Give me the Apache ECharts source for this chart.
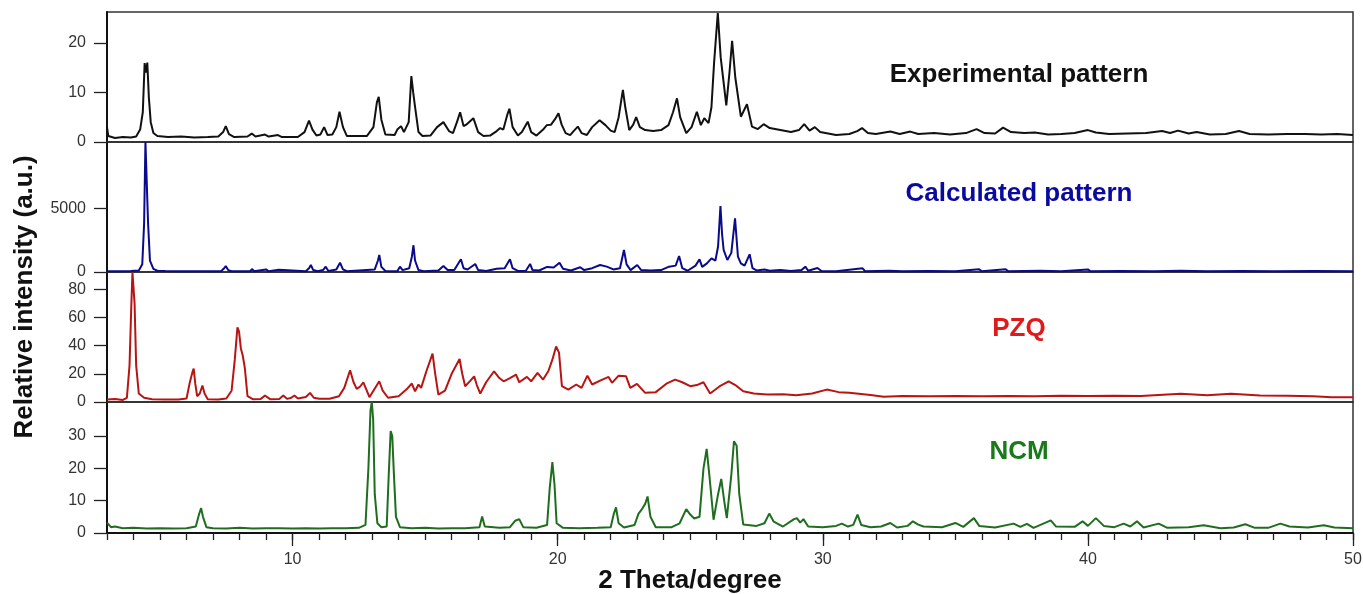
<!DOCTYPE html>
<html>
<head>
<meta charset="utf-8">
<script src="https://cdn.jsdelivr.net/npm/echarts@6/dist/echarts.min.js"></script>
<style>
  html, body { margin: 0; padding: 0; background: #fff; }
  #chart { width: 1363px; height: 594px; }
</style>
</head>
<body>
<div id="chart"></div>
<script>
// 2 theta (degree), intensity pairs
const experimental = [[3.0,3.0],[3.05,1.2],[3.3,0.8],[3.6,1.0],[3.9,0.9],[4.1,1.1],[4.25,2.5],[4.35,6],[4.42,15.9],[4.47,14],[4.52,16],[4.58,8.9],[4.65,4],[4.75,1.8],[4.9,1.2],[5.3,1.0],[5.8,1.1],[6.3,0.9],[6.8,1.0],[7.2,1.1],[7.38,2],[7.48,3.2],[7.6,1.6],[7.8,1.0],[8.3,1.1],[8.46,1.7],[8.6,1.1],[8.96,1.5],[9.1,1.1],[9.45,1.4],[9.6,1.0],[10.2,1.0],[10.45,2],[10.62,4.3],[10.75,2.5],[10.9,1.3],[11.05,1.5],[11.19,3.0],[11.32,1.4],[11.5,1.5],[11.65,3],[11.77,6.1],[11.9,3],[12.05,1.2],[12.8,1.2],[13.05,3],[13.18,8],[13.25,9.1],[13.35,4.5],[13.5,1.5],[13.85,1.4],[13.95,2.5],[14.09,3.2],[14.2,2],[14.38,4],[14.48,13.3],[14.55,10],[14.62,7.1],[14.75,2],[14.9,1.2],[15.2,1.3],[15.45,3],[15.69,4.0],[15.9,2.2],[16.05,1.8],[16.2,4],[16.32,6.0],[16.45,3.2],[16.55,3.5],[16.82,4.8],[17.0,2],[17.2,1.2],[17.45,1.3],[17.7,2.2],[17.83,2.8],[17.95,2.5],[18.1,5.5],[18.18,6.7],[18.3,3],[18.5,1.3],[18.65,2],[18.87,4.1],[19.0,2],[19.2,1.3],[19.45,2.5],[19.59,3.4],[19.75,3.5],[19.9,4.6],[20.03,5.8],[20.15,3.5],[20.3,1.8],[20.47,1.4],[20.6,2.2],[20.76,3.1],[20.9,1.8],[21.1,1.4],[21.3,3],[21.58,4.4],[21.8,3.4],[22.0,2.3],[22.15,2.0],[22.3,5],[22.46,10.5],[22.55,7],[22.7,2.4],[22.85,3.5],[22.96,5.0],[23.1,3],[23.3,2.4],[23.6,2.2],[23.9,2.4],[24.18,3.4],[24.35,6],[24.5,8.8],[24.62,5],[24.85,1.8],[25.05,3],[25.25,6.1],[25.4,3.4],[25.53,4.8],[25.69,3.8],[25.8,7],[25.9,16],[26.04,26.0],[26.15,17],[26.36,7.4],[26.48,14],[26.58,20.4],[26.7,13],[26.91,5.1],[27.14,7.6],[27.33,3.1],[27.55,2.6],[27.77,3.6],[28.0,2.8],[28.4,2.4],[28.8,2.0],[29.1,2.4],[29.3,3.6],[29.5,2.3],[29.7,3.0],[29.9,2.0],[30.5,1.4],[31.0,1.6],[31.3,2.2],[31.48,2.8],[31.7,1.8],[32.0,1.6],[32.55,2.1],[32.9,1.6],[33.3,2.1],[33.6,1.6],[34.2,1.8],[34.8,1.5],[35.4,1.8],[35.8,2.6],[36.1,1.8],[36.5,1.7],[36.8,2.9],[37.1,2.0],[37.6,1.8],[38.0,1.9],[38.5,1.5],[39.0,1.6],[39.5,1.8],[40.0,2.4],[40.3,1.9],[40.8,1.6],[41.5,1.7],[42.2,1.8],[42.8,2.2],[43.1,1.8],[43.4,2.3],[43.8,1.7],[44.1,2.0],[44.6,1.5],[45.2,1.6],[45.7,2.2],[46.1,1.6],[46.8,1.5],[47.5,1.6],[48.2,1.6],[48.8,1.5],[49.4,1.6],[50,1.4]];

const calculated = [[3.0,60],[3.5,60],[3.9,80],[4.2,120],[4.33,600],[4.4,3800],[4.45,10200],[4.5,10200],[4.55,3800],[4.62,900],[4.75,250],[4.9,100],[5.2,70],[5.8,60],[6.5,60],[7.3,60],[7.4,250],[7.48,470],[7.57,150],[7.7,60],[8.4,60],[8.47,230],[8.55,60],[9.0,200],[9.1,60],[9.48,170],[9.55,60],[10.5,60],[10.62,300],[10.69,550],[10.78,150],[10.95,60],[11.15,150],[11.25,420],[11.35,80],[11.65,200],[11.79,730],[11.9,200],[12.05,60],[13.1,200],[13.22,900],[13.27,1335],[13.35,400],[13.5,80],[13.95,60],[14.05,420],[14.15,150],[14.4,300],[14.5,1200],[14.56,2100],[14.62,900],[14.75,150],[14.95,60],[15.5,120],[15.69,470],[15.85,150],[16.1,150],[16.35,1000],[16.45,300],[16.6,200],[16.89,630],[17.0,150],[17.3,80],[17.7,250],[18.0,300],[18.2,1000],[18.3,300],[18.5,80],[18.8,100],[18.96,630],[19.05,150],[19.3,120],[19.6,400],[19.85,350],[20.07,730],[20.2,250],[20.5,120],[20.85,370],[21.0,150],[21.3,300],[21.6,550],[21.85,420],[22.1,200],[22.35,300],[22.5,1730],[22.6,600],[22.75,150],[23.0,550],[23.15,150],[23.5,120],[23.9,150],[24.2,420],[24.45,500],[24.58,1256],[24.7,300],[24.9,100],[25.2,500],[25.35,1000],[25.45,400],[25.63,680],[25.8,1075],[25.95,900],[26.05,2000],[26.14,5180],[26.2,3000],[26.26,1730],[26.4,940],[26.55,1500],[26.69,4215],[26.8,1200],[26.91,680],[27.05,500],[27.24,1390],[27.35,300],[27.5,120],[27.8,200],[28.0,100],[28.4,150],[28.8,80],[29.2,150],[29.34,420],[29.45,100],[29.8,310],[29.95,80],[30.5,60],[31.5,290],[31.6,60],[32.5,100],[33.0,60],[34.0,80],[35.0,60],[35.9,210],[36.0,60],[36.9,210],[37.0,60],[38.2,100],[39.0,60],[40.0,200],[40.1,60],[41.2,80],[42.5,60],[43.5,90],[44.5,60],[45.8,80],[47,60],[48.5,70],[50,60]];

const pzq = [[3.0,1.8],[3.3,2.2],[3.6,1.5],[3.75,3],[3.85,26],[3.92,70],[3.96,92],[4.0,92],[4.04,70],[4.1,26],[4.2,6],[4.4,3],[4.7,2.0],[5.2,1.8],[5.7,1.8],[6.0,2.5],[6.12,13.6],[6.22,21],[6.27,23.7],[6.33,13],[6.4,4.1],[6.5,6],[6.6,11.7],[6.68,6],[6.8,2],[7.2,1.8],[7.5,2.5],[7.7,8],[7.82,30],[7.92,52.9],[7.98,50],[8.05,38],[8.12,33],[8.2,24],[8.3,4.1],[8.5,2.0],[8.8,2.2],[8.96,4.6],[9.15,2],[9.5,2.2],[9.65,4.6],[9.8,2.2],[9.95,3],[10.07,4.6],[10.2,2.5],[10.5,3.5],[10.66,6.5],[10.8,3],[11.0,2.3],[11.4,2.3],[11.75,4.1],[11.95,10],[12.17,22.5],[12.3,14],[12.42,9.3],[12.55,11],[12.67,14],[12.78,9],[12.9,3.4],[13.05,8],[13.27,14.7],[13.4,8],[13.6,3],[14.0,4.1],[14.3,9],[14.5,13.1],[14.62,7.6],[14.75,12.4],[14.85,10],[15.05,22],[15.28,34.3],[15.38,20],[15.5,5.3],[15.75,8],[16.0,20],[16.3,30.5],[16.4,20],[16.51,11.2],[16.7,15],[16.85,18.2],[16.95,12],[17.08,6.0],[17.3,14],[17.6,21.8],[17.8,17],[17.96,14.7],[18.2,17],[18.43,19.4],[18.55,14],[18.84,17.8],[19.0,14.7],[19.24,20.6],[19.45,15.9],[19.65,22],[19.8,30],[19.94,39.4],[20.05,35],[20.16,11.2],[20.4,8.8],[20.7,12.4],[20.9,10],[21.12,18.7],[21.3,12.4],[21.6,15.2],[21.92,17.8],[22.05,13.6],[22.3,18.7],[22.58,18.2],[22.74,10],[22.99,12.9],[23.3,6.5],[23.7,7],[24.1,13],[24.43,15.9],[24.7,14],[25.0,11.2],[25.25,12],[25.5,14],[25.75,6.0],[26.1,11],[26.45,14.7],[26.7,12],[27.0,7.6],[27.4,6],[27.9,5.3],[28.5,5.5],[29.0,4.8],[29.6,6],[30.15,8.8],[30.6,7],[31.0,6.5],[31.8,5],[32.3,3.7],[33,4.2],[34,4],[35,4.3],[36,4],[37,4.3],[38,4.1],[39,4.4],[40,4.3],[41,4.5],[42,4.2],[43.5,5.8],[44.5,4.8],[45.4,5.8],[46.5,4.6],[47.5,4.5],[48.5,4],[49.2,3.4],[50,3.4]];

const ncm = [[3.0,3.2],[3.05,3.5],[3.15,1.8],[3.3,2.0],[3.6,1.5],[4.0,1.6],[4.5,1.4],[5.0,1.5],[5.5,1.4],[6.0,1.5],[6.35,2],[6.48,6],[6.55,7.7],[6.62,5],[6.75,1.8],[7.0,1.5],[7.5,1.4],[8,1.6],[8.5,1.4],[9,1.5],[9.5,1.5],[10,1.4],[10.5,1.5],[11,1.4],[11.5,1.5],[12,1.5],[12.5,1.6],[12.75,2.5],[12.86,20],[12.94,38],[12.99,40.5],[13.04,35],[13.1,12],[13.2,3],[13.35,1.8],[13.55,2],[13.63,18.6],[13.7,31.5],[13.76,30],[13.82,18.6],[13.9,5],[14.05,1.8],[14.5,1.5],[15,1.6],[15.5,1.4],[16,1.5],[16.5,1.5],[17.05,1.8],[17.15,5.1],[17.25,2],[17.8,1.6],[18.2,1.8],[18.4,3.8],[18.55,4.3],[18.7,1.8],[19.2,1.6],[19.6,2.5],[19.7,13.9],[19.8,21.9],[19.88,15],[19.96,3],[20.2,1.6],[20.8,1.5],[21.5,1.6],[22.0,1.8],[22.12,6],[22.2,7.9],[22.3,3],[22.5,1.7],[22.9,2.5],[23.05,6],[23.18,7.4],[23.3,9],[23.39,11.3],[23.5,5],[23.7,1.8],[24.3,1.8],[24.6,3],[24.85,7.4],[25.0,5.7],[25.15,4.5],[25.35,5],[25.5,20],[25.62,26],[25.72,18],[25.88,4.1],[26.05,12],[26.17,16.7],[26.28,10],[26.38,4.6],[26.55,18],[26.65,28.4],[26.75,27],[26.85,12],[27.0,2.6],[27.5,2.2],[27.8,3],[27.98,6.0],[28.15,3.5],[28.5,2.0],[28.9,4.2],[29.02,4.6],[29.15,3.2],[29.27,4.3],[29.45,2],[30,1.8],[30.5,2.2],[30.72,2.9],[30.95,2],[31.15,2.5],[31.31,5.7],[31.45,2.5],[31.8,1.8],[32.2,2],[32.55,3.1],[32.8,1.7],[33.2,2.2],[33.4,3.6],[33.6,2.6],[33.8,2.0],[34.5,1.8],[35.0,3.1],[35.3,1.9],[35.7,4.6],[35.9,2.2],[36.5,1.7],[37.2,2.9],[37.45,1.9],[37.7,2.8],[37.95,1.6],[38.6,3.9],[38.8,2.0],[39.5,1.9],[39.8,3.6],[40.0,2.2],[40.3,4.6],[40.6,2.2],[41.0,1.8],[41.35,2.9],[41.6,2.0],[41.85,3.6],[42.1,1.7],[42.67,2.9],[43.0,1.6],[43.8,1.8],[44.37,2.4],[45.0,1.5],[45.5,1.7],[45.94,2.7],[46.3,1.6],[46.8,1.6],[47.26,2.9],[47.6,2.0],[48.3,1.7],[48.9,2.4],[49.3,1.7],[50,1.5]];

// panel order top -> bottom
const panelNames = ['Experimental pattern', 'Calculated pattern', 'PZQ', 'NCM'];
const panelData = [experimental, calculated, pzq, ncm];
const yMax = [26.2, 10200, 92.2, 40.5];
const yTicks = [[0, 10, 20], [0, 5000], [0, 20, 40, 60, 80], [0, 10, 20, 30]];
const xLabelTicks = [10, 20, 30, 40, 50];

const lineColors = ['#111111', '#0a0a8c', '#b81414', '#1e6e1e'];
const textColors = ['#111111', '#0a0aa0', '#e01a1a', '#1a7a1a'];
const labelY = [75, 194, 329, 452];

const chart = echarts.init(document.getElementById('chart'));

const FONT = "'Liberation Sans', Arial, sans-serif";

let grids = [];
let xAxes = [];
let yAxes = [];
let series = [];
let graphics = [];

const tops = [12, 142, 272, 402];
const heights = [130, 130, 130, 131];

panelNames.forEach((name, i) => {
    const last = i === panelNames.length - 1;

    grids.push({
        left: 107,
        right: 10,
        top: tops[i],
        height: heights[i],
        outerBoundsMode: 'none',
        containLabel: false,
        show: true,
        borderColor: '#333',
        borderWidth: 1.5
    });

    xAxes.push({
        type: 'value',
        gridIndex: i,
        min: 3,
        max: 50,
        interval: 1,
        axisLine: { show: true, onZero: false, lineStyle: { color: last ? '#111' : '#333', width: last ? 2 : 1.5 } },
        axisTick: { show: last, length: 7, lineStyle: { color: '#222', width: 1.3 } },
        axisLabel: {
            show: last,
            margin: 19,
            color: '#333',
            fontSize: 16,
            fontFamily: FONT,
            formatter: (v) => (v % 10 === 0 ? String(v) : '')
        },
        splitLine: { show: false }
    });

    yAxes.push({
        type: 'value',
        gridIndex: i,
        min: 0,
        max: yMax[i],
        axisLine: { show: true, lineStyle: { color: '#111', width: 2 } },
        axisTick: { show: true, length: 13, customValues: yTicks[i], lineStyle: { color: '#222', width: 1.3 } },
        axisLabel: {
            customValues: yTicks[i],
            margin: 21,
            color: '#333',
            fontSize: 16,
            fontFamily: FONT,
            formatter: (v) => String(v)
        },
        splitLine: { show: false }
    });

    series.push({
        name: name,
        type: 'line',
        xAxisIndex: i,
        yAxisIndex: i,
        data: panelData[i],
        showSymbol: false,
        symbol: 'none',
        lineStyle: { color: lineColors[i], width: 2 },
        animation: false
    });

    graphics.push({
        type: 'text',
        x: 1019,
        y: labelY[i],
        style: {
            text: name,
            font: 'bold 26px ' + FONT,
            fill: textColors[i],
            align: 'center',
            verticalAlign: 'middle'
        }
    });
});

// long ticks every 10 degrees on the bottom axis
xAxes.push({
    type: 'value',
    gridIndex: 3,
    position: 'bottom',
    min: 3,
    max: 50,
    axisLine: { show: false },
    axisTick: { show: true, length: 13, customValues: xLabelTicks, lineStyle: { color: '#222', width: 1.3 } },
    axisLabel: { show: false },
    splitLine: { show: false }
});

graphics.push({
    type: 'text',
    x: 25,
    y: 297,
    rotation: Math.PI / 2,
    style: {
        text: 'Relative intensity (a.u.)',
        font: 'bold 26px ' + FONT,
        fill: '#111',
        align: 'center',
        verticalAlign: 'middle'
    }
});
graphics.push({
    type: 'text',
    x: 690,
    y: 581,
    style: {
        text: '2 Theta/degree',
        font: 'bold 26px ' + FONT,
        fill: '#111',
        align: 'center',
        verticalAlign: 'middle'
    }
});

chart.setOption({
    backgroundColor: '#fff',
    animation: false,
    grid: grids,
    xAxis: xAxes,
    yAxis: yAxes,
    series: series,
    graphic: graphics
});
</script>
</body>
</html>
